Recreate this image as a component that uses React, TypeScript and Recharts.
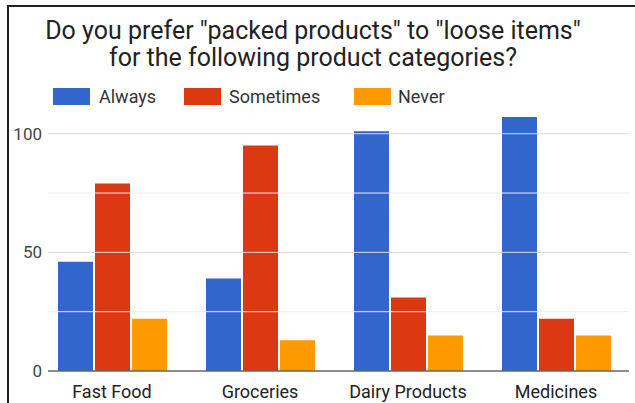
import { BarChart, Bar, XAxis, YAxis, CartesianGrid, ReferenceLine } from "recharts"

const categories = ["Fast Food", "Groceries", "Dairy Products", "Medicines"]
const always = [46, 39, 101, 107]
const sometimes = [79, 95, 31, 22]
const never = [22, 13, 15, 15]
const yTicks = [0, 25, 50, 75, 100]
const yLabels = [0, 50, 100]

const series = [
  { key: "always", name: "Always", color: "#3366cc", swatchX: 53, textX: 99 },
  { key: "sometimes", name: "Sometimes", color: "#dc3912", swatchX: 184, textX: 229 },
  { key: "never", name: "Never", color: "#ff9900", swatchX: 354, textX: 398 },
]

const data = categories.map((name, i) => ({
  name,
  always: always[i],
  sometimes: sometimes[i],
  never: never[i],
}))

const font = "Roboto, Arial, sans-serif"

// grid lines in the original start a little right of the plot edge
const inset = (stroke: string, width = 1) => (p: any) => (
  <line x1={p.x1 + 10} y1={p.y1} x2={p.x2 - 1} y2={p.y2} stroke={stroke} strokeWidth={width} />
)

export default function App() {
  return (
    <div style={{ position: "absolute", left: 0, top: 0, width: 635, height: 403, background: "#fff", overflow: "hidden", fontFamily: font }}>
      <div
        style={{
          position: "absolute",
          left: 7,
          top: 5,
          width: 640,
          height: 420,
          borderLeft: "2px solid #222",
          borderTop: "2px solid #222",
          boxSizing: "border-box",
        }}
      />
      <div
        style={{
          position: "absolute",
          left: 0,
          top: 17,
          width: 626,
          textAlign: "center",
          fontSize: 25,
          lineHeight: "27px",
          color: "#222",
        }}
      >
        Do you prefer "packed products" to "loose items"
        <br />
        for the following product categories?
      </div>
      {series.map((s) => (
        <div key={s.key}>
          <div style={{ position: "absolute", left: s.swatchX, top: 88, width: 37, height: 17, background: s.color }} />
          <div style={{ position: "absolute", left: s.textX, top: 86, fontSize: 18, lineHeight: "21px", color: "#333" }}>{s.name}</div>
        </div>
      ))}
      <div style={{ position: "absolute", left: 0, top: 0 }}>
        <BarChart
          width={635}
          height={403}
          data={data}
          margin={{ top: 110, right: 5, left: 0, bottom: 2 }}
          barCategoryGap={20}
          barGap={2}
        >
          <CartesianGrid vertical={false} horizontal={false} />
          <ReferenceLine y={25} shape={inset("#ececec")} />
          <ReferenceLine y={75} shape={inset("#ececec")} />
          <ReferenceLine y={50} shape={inset("#dadada")} />
          <ReferenceLine y={100} shape={inset("#dadada")} />
          <XAxis
            dataKey="name"
            tickLine={false}
            axisLine={false}
            tickSize={0}
            tickMargin={14}
            height={30}
            tick={{ fill: "#222", fontSize: 18, fontFamily: font }}
          />
          <YAxis
            width={38}
            domain={[0, 110]}
            ticks={yTicks}
            tickFormatter={(v: number) => (yLabels.includes(v) ? String(v) : "")}
            axisLine={false}
            tickLine={false}
            tickSize={0}
            tickMargin={0}
            tick={{ fill: "#444", fontSize: 17, fontFamily: font, dx: 4 }}
          />
          {series.map((s) => (
            <Bar key={s.key} dataKey={s.key} name={s.name} fill={s.color} isAnimationActive={false} />
          ))}
          <ReferenceLine y={0} shape={inset("#666", 1.5)} />
        </BarChart>
      </div>
    </div>
  )
}
